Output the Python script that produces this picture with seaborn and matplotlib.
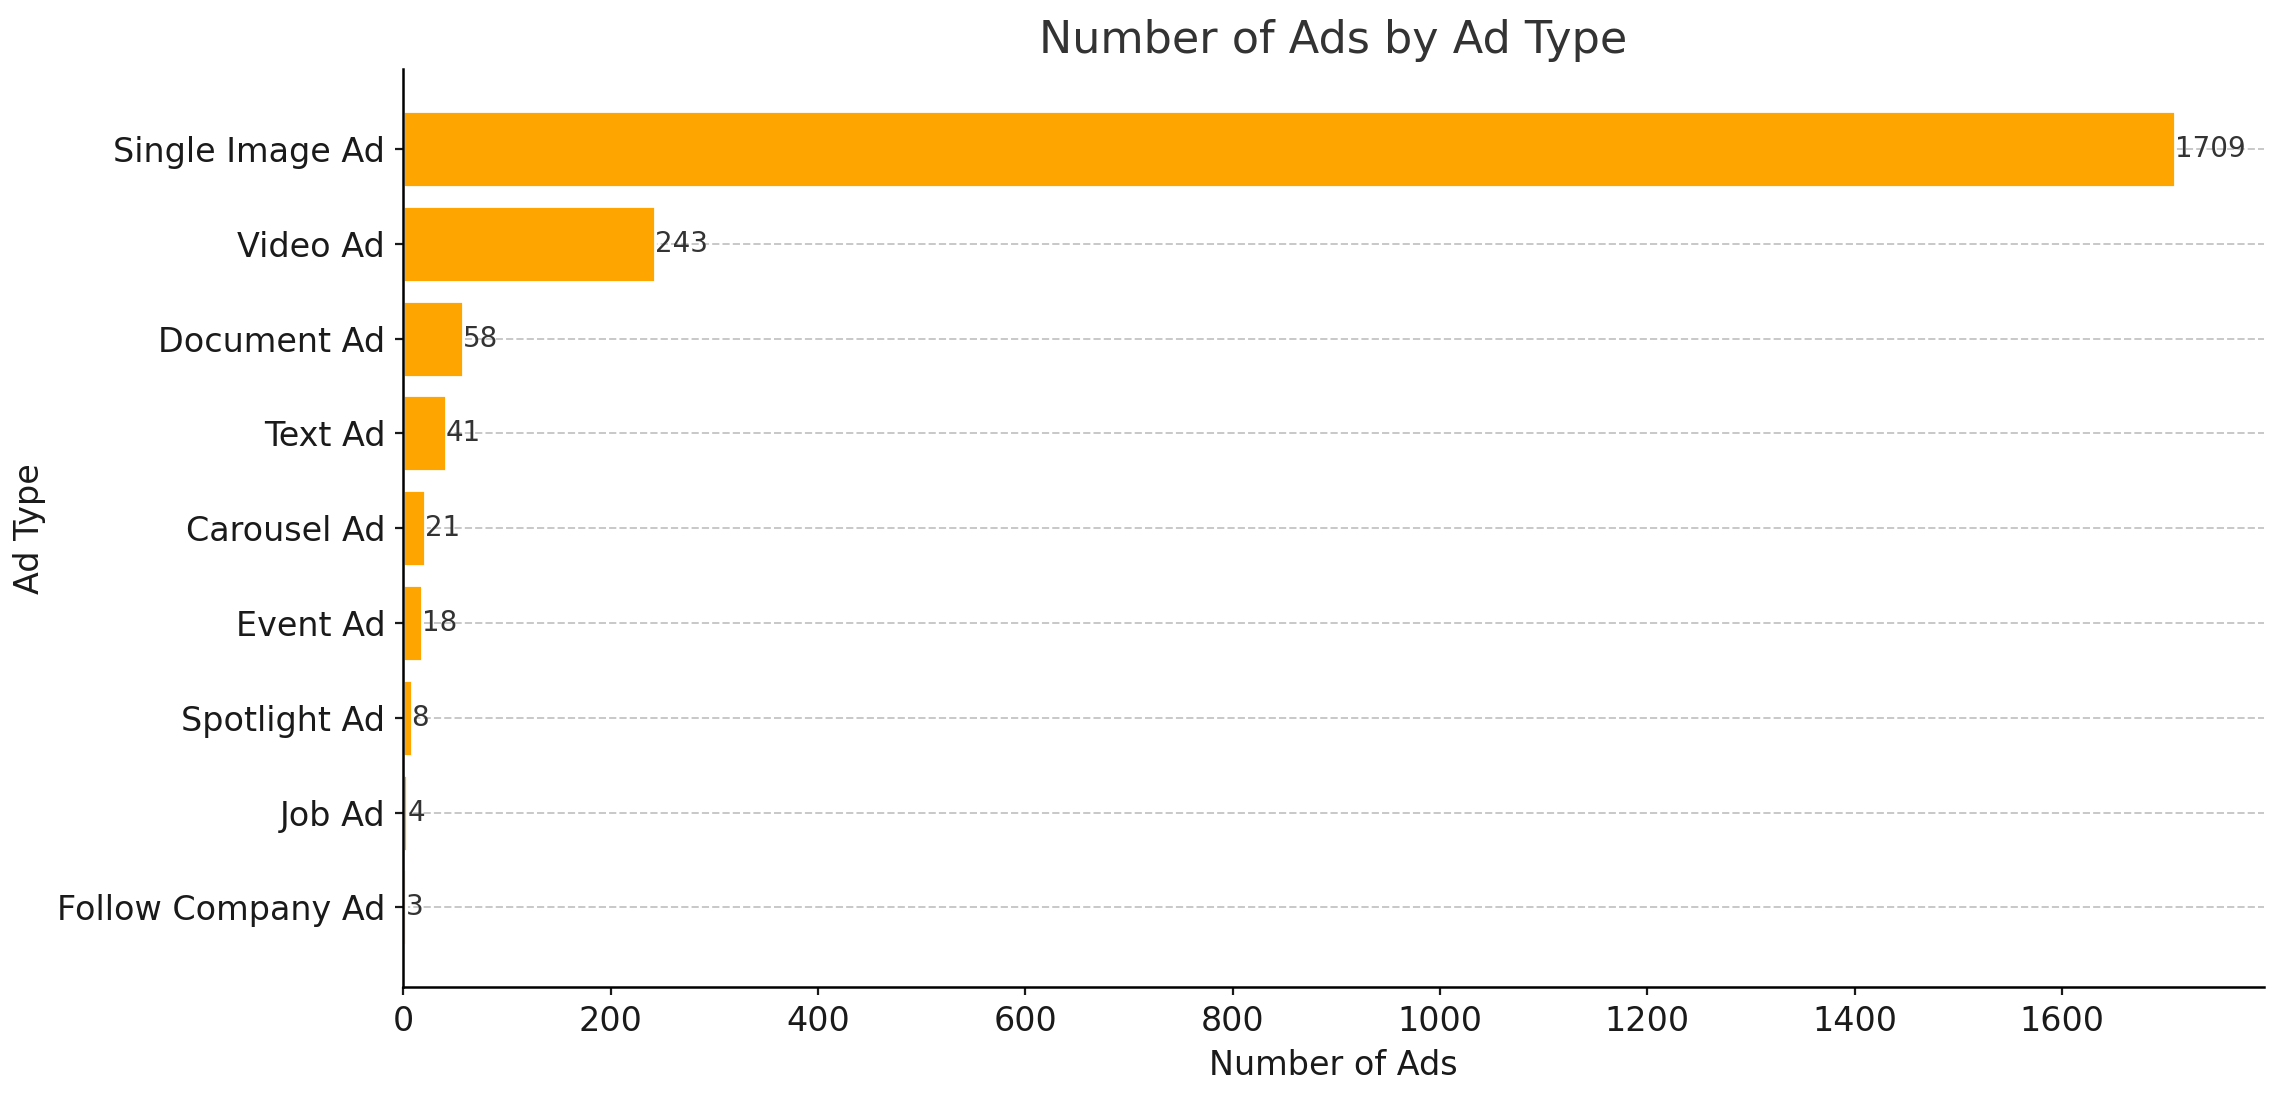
import matplotlib
matplotlib.use('Agg')
import matplotlib.pyplot as plt
import seaborn as sns
import pandas as pd

ad_types = ['Single Image Ad', 'Video Ad', 'Document Ad', 'Text Ad', 'Carousel Ad',
            'Event Ad', 'Spotlight Ad', 'Job Ad', 'Follow Company Ad']
ad_counts = [1709, 243, 58, 41, 21, 18, 8, 4, 3]

df = pd.DataFrame({'Ad Type': ad_types, 'Number of Ads': ad_counts})

sns.set_style('white')
fig, ax = plt.subplots(figsize=(11.41, 5.505), dpi=200)
fig.subplots_adjust(left=0.1767, right=0.992, top=0.937, bottom=0.1035)

sns.barplot(data=df, x='Number of Ads', y='Ad Type', color='#FFA500',
            saturation=1, width=0.8, ax=ax, zorder=2)

for i, v in enumerate(ad_counts):
    ax.text(v, i, str(v), va='center', ha='left', fontsize=10, color='#333333')

ax.set_xlim(0, 1709 * 1.05)
ax.set_ylim(len(ad_types) - 0.16, -0.84)
ax.grid(axis='y', linestyle='--', color='#c8c8c8', linewidth=0.7, zorder=0)
ax.set_axisbelow(True)
sns.despine(ax=ax)
for s in ['left', 'bottom']:
    ax.spines[s].set_color('black')
    ax.spines[s].set_linewidth(0.9)
ax.tick_params(axis='both', labelsize=12, colors='#1a1a1a', length=3, left=True, bottom=True)
ax.set_title('Number of Ads by Ad Type', fontsize=16, color='#333333')
ax.set_xlabel('Number of Ads', fontsize=12, color='#1a1a1a')
ax.set_ylabel('Ad Type', fontsize=12, color='#1a1a1a')

fig.savefig('out.png', dpi=200)
